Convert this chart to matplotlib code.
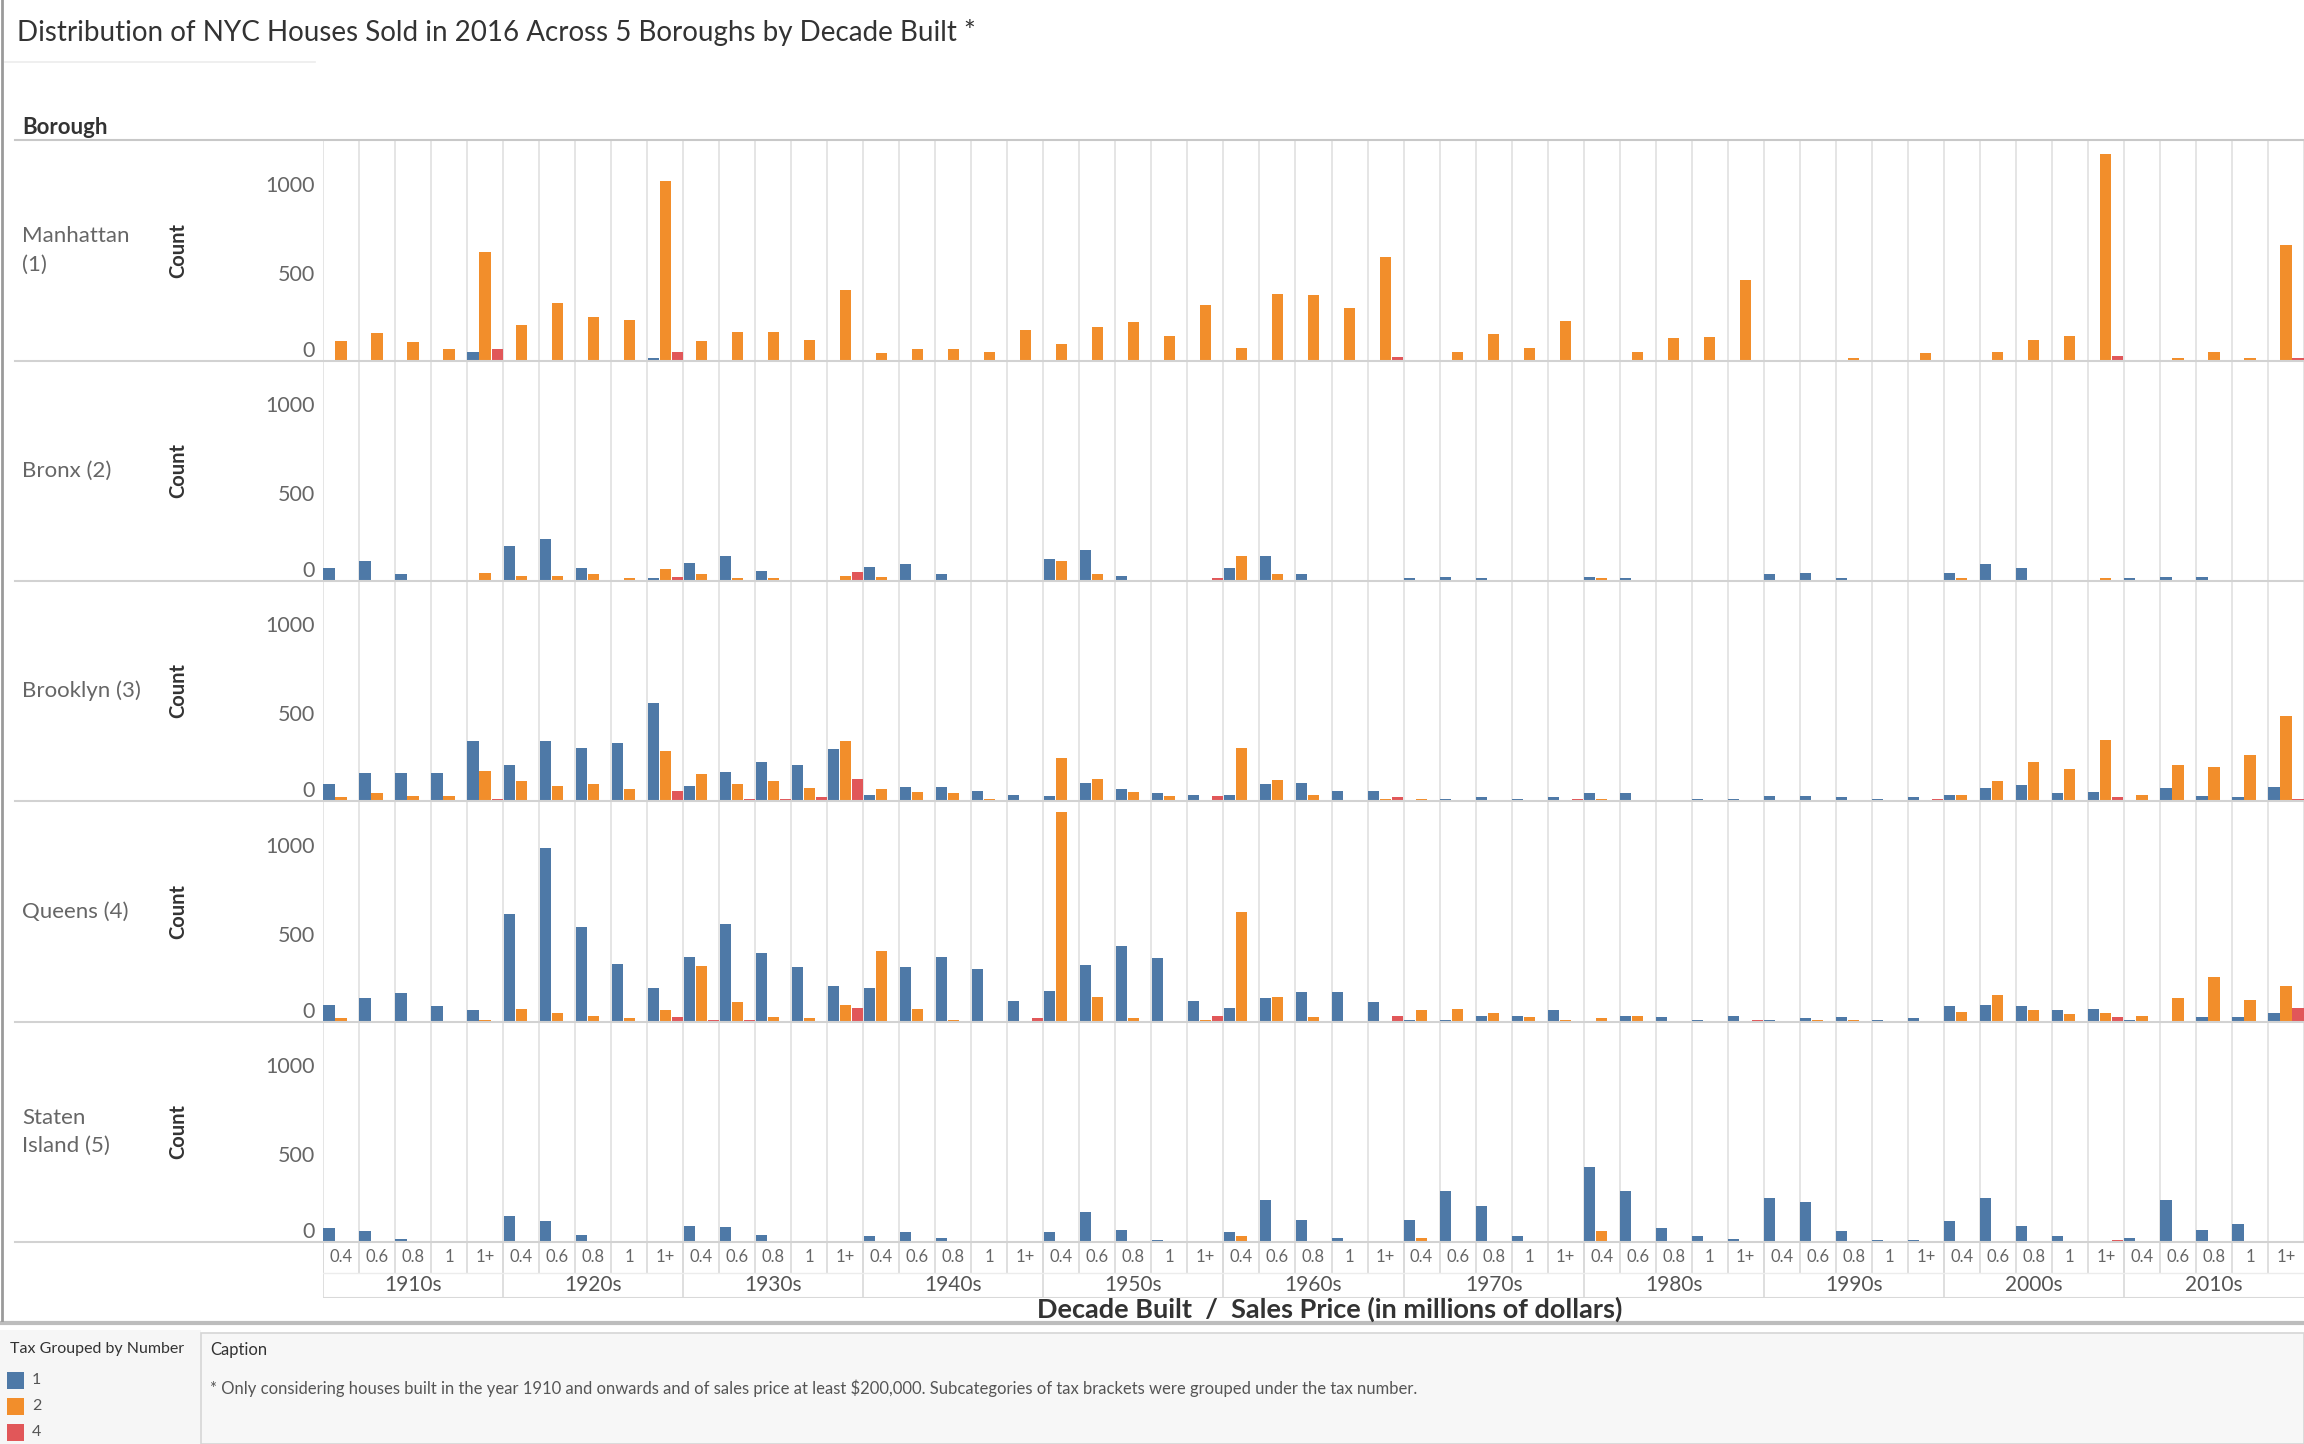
import matplotlib
matplotlib.use("Agg")
import matplotlib.pyplot as plt
import numpy as np
from matplotlib.patches import Rectangle
from matplotlib.lines import Line2D

plt.rcParams['font.family'] = ['Lato', 'DejaVu Sans']

decades = ['1910s', '1920s', '1930s', '1940s', '1950s', '1960s',
           '1970s', '1980s', '1990s', '2000s', '2010s']
price_bins = ['0.4', '0.6', '0.8', '1', '1+']
boroughs = ['Manhattan\n(1)', 'Bronx (2)', 'Brooklyn (3)', 'Queens (4)', 'Staten\nIsland (5)']
tax_groups = ['1', '2', '4']

# counts per decade x price bin (5 values per decade)
manhattan_t1 = [0, 0, 0, 0, 53,  0, 0, 0, 0, 15,  0, 0, 0, 0, 0,  0, 0, 0, 0, 0,
                0, 0, 0, 0, 0,  0, 0, 0, 0, 0,  0, 0, 0, 0, 0,  0, 0, 0, 0, 0,
                0, 0, 0, 0, 0,  0, 0, 0, 0, 0,  0, 0, 0, 0, 0]
manhattan_t2 = [114, 159, 106, 68, 617,  205, 326, 248, 233, 1019,  114, 165, 165, 121, 400,
                45, 68, 68, 53, 174,  98, 195, 218, 142, 318,  76, 377, 371, 301, 587,
                3, 53, 152, 76, 225,  5, 53, 129, 136, 460,  0, 5, 15, 5, 45,
                5, 53, 121, 144, 1170,  0, 15, 53, 15, 657]
manhattan_t4 = [0, 0, 0, 0, 66,  0, 0, 0, 0, 53,  0, 0, 0, 0, 8,  0, 0, 0, 0, 8,
                0, 0, 0, 0, 8,  0, 0, 0, 0, 21,  0, 0, 0, 0, 5,  0, 0, 0, 0, 5,
                0, 0, 0, 0, 0,  0, 0, 0, 0, 28,  0, 0, 0, 0, 15]

bronx_t1 = [74, 112, 38, 8, 5,  200, 239, 74, 8, 15,  104, 142, 59, 5, 5,  81, 97, 38, 0, 0,
            127, 178, 27, 0, 0,  74, 142, 38, 0, 0,  15, 23, 15, 0, 0,  23, 15, 5, 0, 0,
            38, 45, 15, 0, 0,  45, 97, 74, 0, 0,  15, 23, 23, 5, 0]
bronx_t2 = [0, 0, 0, 8, 45,  30, 30, 38, 15, 66,  38, 15, 15, 5, 27,  23, 5, 0, 0, 0,
            112, 38, 5, 0, 0,  142, 38, 5, 0, 3,  5, 0, 0, 0, 0,  15, 0, 0, 0, 0,
            0, 0, 0, 0, 0,  15, 5, 5, 5, 15,  0, 0, 0, 0, 5]
bronx_t4 = [0, 0, 0, 0, 3,  3, 0, 0, 0, 23,  3, 0, 0, 5, 53,  0, 0, 0, 0, 0,
            0, 0, 0, 0, 15,  0, 0, 3, 0, 3,  0, 0, 0, 0, 3,  0, 0, 0, 0, 0,
            0, 0, 0, 0, 0,  0, 0, 0, 0, 5,  0, 0, 0, 0, 0]

brooklyn_t1 = [98, 157, 157, 157, 337,  203, 337, 299, 330, 557,  87, 165, 218, 203, 292,
               36, 81, 81, 59, 36,  28, 104, 66, 44, 36,  36, 97, 104, 59, 59,
               5, 13, 21, 13, 21,  44, 44, 5, 13, 13,  28, 28, 21, 13, 21,
               36, 74, 89, 44, 51,  5, 74, 28, 21, 81]
brooklyn_t2 = [21, 44, 28, 28, 172,  112, 87, 97, 66, 284,  150, 97, 112, 74, 337,
               66, 51, 44, 13, 3,  246, 127, 51, 28, 3,  299, 119, 36, 5, 13,
               13, 0, 0, 0, 0,  13, 5, 5, 5, 3,  5, 5, 5, 5, 5,
               36, 112, 218, 180, 345,  36, 203, 195, 263, 481]
brooklyn_t4 = [0, 0, 0, 3, 13,  3, 0, 0, 0, 59,  3, 13, 13, 21, 127,  0, 0, 0, 0, 3,
               3, 3, 3, 3, 28,  0, 0, 0, 0, 21,  0, 0, 0, 0, 13,  0, 0, 0, 3, 0,
               0, 0, 0, 0, 13,  0, 5, 0, 0, 21,  0, 0, 0, 0, 13]

queens_t1 = [97, 134, 163, 89, 66,  610, 985, 536, 330, 193,  367, 555, 390, 309, 201,
             193, 309, 367, 301, 119,  178, 324, 428, 360, 119,  81, 134, 170, 170, 112,
             13, 13, 36, 36, 66,  3, 36, 28, 13, 36,  13, 21, 28, 13, 21,
             89, 97, 89, 66, 74,  13, 5, 28, 28, 51]
queens_t2 = [23, 5, 5, 0, 11,  74, 51, 36, 21, 66,  316, 112, 28, 21, 97,
             403, 74, 13, 0, 5,  1189, 140, 21, 5, 11,  625, 140, 28, 5, 5,
             66, 74, 51, 28, 13,  21, 36, 3, 0, 3,  0, 13, 13, 0, 3,
             59, 155, 66, 44, 51,  36, 133, 252, 125, 201]
queens_t4 = [0, 0, 0, 0, 3,  3, 3, 0, 0, 28,  13, 13, 3, 3, 81,  0, 0, 0, 0, 21,
             0, 3, 0, 0, 36,  3, 0, 0, 0, 36,  0, 0, 0, 0, 5,  3, 0, 3, 0, 13,
             0, 0, 0, 0, 3,  3, 0, 3, 0, 28,  0, 0, 0, 0, 81]

staten_t1 = [80, 63, 17, 0, 0,  146, 116, 40, 5, 5,  93, 85, 40, 3, 0,  32, 55, 25, 3, 0,
             55, 169, 70, 9, 3,  55, 235, 123, 25, 3,  123, 288, 206, 32, 3,
             424, 288, 78, 32, 17,  250, 229, 63, 9, 9,  116, 250, 93, 32, 3,
             25, 235, 70, 100, 3]
staten_t2 = [0, 0, 0, 0, 0,  0, 0, 0, 0, 0,  3, 0, 3, 0, 0,  5, 0, 0, 0, 0,
             0, 0, 0, 0, 0,  32, 0, 0, 0, 0,  25, 0, 0, 0, 0,  61, 0, 3, 0, 0,
             0, 0, 0, 0, 0,  0, 0, 0, 0, 0,  0, 0, 0, 0, 0]
staten_t4 = [0, 0, 0, 0, 0,  0, 0, 0, 0, 0,  3, 3, 3, 0, 3,  0, 3, 0, 0, 0,
             0, 0, 0, 0, 3,  0, 0, 3, 0, 0,  0, 0, 0, 0, 3,  0, 0, 0, 0, 3,
             0, 0, 0, 0, 0,  0, 0, 0, 0, 9,  0, 0, 0, 0, 0]

rows = [
    (manhattan_t1, manhattan_t2, manhattan_t4),
    (bronx_t1, bronx_t2, bronx_t4),
    (brooklyn_t1, brooklyn_t2, brooklyn_t4),
    (queens_t1, queens_t2, queens_t4),
    (staten_t1, staten_t2, staten_t4),
]

colors = ['#4e79a7', '#f28e2b', '#e15759']
W, H = 2304, 1444


def box(x0, y0, x1, y1):
    return [x0 / W, 1 - y1 / H, (x1 - x0) / W, (y1 - y0) / H]


def fx(x):
    return x / W


def fy(y):
    return 1 - y / H


fig = plt.figure(figsize=(W / 100, H / 100), dpi=100)

n_cols = len(decades) * len(price_bins)
x = np.arange(n_cols)
plot_left, plot_right = 323, 2304
row_tops = [140, 360, 580, 801, 1021]
row_h = 221

# title
fig.text(fx(17), fy(32), 'Distribution of NYC Houses Sold in 2016 Across 5 Boroughs by Decade Built *',
         fontsize=20, color='#333333', va='center', ha='left')
fig.add_artist(Line2D([fx(5), fx(315)], [fy(62), fy(62)], color='#ececec', lw=1.2))
fig.text(fx(22), fy(128), 'Borough', fontsize=16, fontweight='bold', color='#333333', va='center')
fig.add_artist(Line2D([fx(15), fx(2304)], [fy(140), fy(140)], color='#c8c8c8', lw=1.5))

for r, (series, top) in enumerate(zip(rows, row_tops)):
    ax = fig.add_axes(box(plot_left, top, plot_right, top + row_h))
    ax.vlines(np.arange(n_cols + 1) - 0.5, 0, 1250, color='#e3e3e3', lw=1.3, zorder=0)
    for k, vals in enumerate(series):
        ax.bar(x + (k - 1) / 3, vals, width=0.31, color=colors[k], zorder=2, linewidth=0)
    ax.set_xlim(-0.5, n_cols - 0.5)
    ax.set_ylim(0, 1250)
    for s in ax.spines.values():
        s.set_visible(False)
    ax.set_xticks([])
    ax.set_yticks([0, 500, 1000])
    ax.set_yticklabels(['0', '500', '1000'])
    ax.tick_params(axis='y', length=0, pad=6, labelsize=15.5, labelcolor='#666666')
    ax.get_yticklabels()[0].set_va('bottom')
    ax.patch.set_alpha(0)

    yc = top + row_h / 2
    fig.text(fx(22), fy(yc), boroughs[r], fontsize=16, color='#666666', va='center', ha='left',
             linespacing=1.5)
    fig.text(fx(178), fy(yc), 'Count', fontsize=14.5, fontweight='bold', color='#333333',
             rotation=90, va='center', ha='center')
    fig.add_artist(Line2D([fx(15), fx(2304)], [fy(top + row_h), fy(top + row_h)],
                          color='#d2d2d2', lw=1.5))

# x axis header cells
axx = fig.add_axes(box(plot_left, 1242, plot_right, 1298))
axx.set_xlim(-0.5, n_cols - 0.5)
axx.set_ylim(0, 1)
axx.axis('off')
split = 0.45
for i in range(n_cols):
    axx.text(i, (1 + split) / 2, price_bins[i % 5], ha='center', va='center',
             fontsize=12, color='#666666')
    axx.plot([i - 0.5, i - 0.5], [split, 1], color='#d9d9d9', lw=1.2)
for d, name in enumerate(decades):
    axx.text(d * 5 + 2, split / 2, name, ha='center', va='center', fontsize=15, color='#555555')
    axx.plot([d * 5 - 0.5, d * 5 - 0.5], [0, 1], color='#d9d9d9', lw=1.2)
axx.plot([-0.5, n_cols - 0.5], [split, split], color='#ececec', lw=1.0)
axx.plot([-0.5, n_cols - 0.5], [0, 0], color='#d9d9d9', lw=1.5)

fig.text(fx(1330), fy(1309), 'Decade Built  /  Sales Price (in millions of dollars)',
         fontsize=19.5, fontweight='bold', color='#333333', ha='center', va='center')

# bottom panels
fig.add_artist(Line2D([0, 1], [fy(1323), fy(1323)], color='#bdbdbd', lw=3))
fig.add_artist(Rectangle((0, 0), fx(201), fy(1330), transform=fig.transFigure,
                         facecolor='#f6f6f6', edgecolor='none'))
fig.add_artist(Rectangle((fx(201), 0), 1 - fx(201), fy(1332) - 0.001, transform=fig.transFigure,
                         facecolor='#f7f7f7', edgecolor='#d6d6d6', lw=1.2))
fig.text(fx(10), fy(1349), 'Tax Grouped by Number', fontsize=11.5, color='#333333', va='center')
for k, (lab, c) in enumerate(zip(tax_groups, colors)):
    y0 = 1372 + k * 26
    fig.add_artist(Rectangle((fx(7), fy(y0 + 17)), fx(17), 17 / H, transform=fig.transFigure,
                             facecolor=c, edgecolor='none'))
    fig.text(fx(32), fy(y0 + 8.5), lab, fontsize=11.5, color='#555555', va='center')
fig.text(fx(210), fy(1350), 'Caption', fontsize=12, color='#333333', va='center')
fig.text(fx(210), fy(1388),
         '* Only considering houses built in the year 1910 and onwards and of sales price at least '
         '\\$200,000. Subcategories of tax brackets were grouped under the tax number.',
         fontsize=12, color='#555555', va='center')

fig.add_artist(Line2D([fx(2), fx(2)], [fy(0), fy(1320)], color='#9a9a9a', lw=2))

fig.savefig('out.png', dpi=100)
